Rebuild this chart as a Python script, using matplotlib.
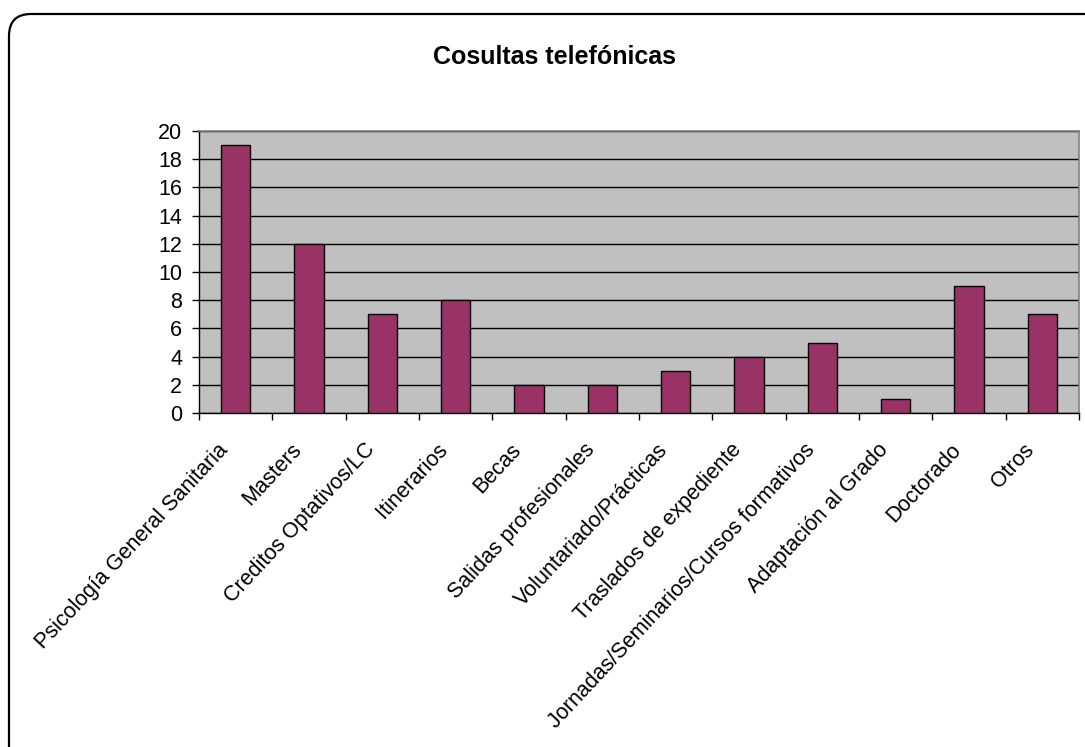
import matplotlib
matplotlib.use("Agg")
import matplotlib.pyplot as plt
import matplotlib.transforms as mtransforms
import numpy as np
from matplotlib.patches import FancyBboxPatch

categories = ["Psicología General Sanitaria", "Masters", "Creditos Optativos/LC",
              "Itinerarios", "Becas", "Salidas profesionales", "Voluntariado/Prácticas",
              "Traslados de expediente", "Jornadas/Seminarios/Cursos formativos",
              "Adaptación al Grado", "Doctorado", "Otros"]
values = [19, 12, 7, 8, 2, 2, 3, 4, 5, 1, 9, 7]
yticks = [0, 2, 4, 6, 8, 10, 12, 14, 16, 18, 20]
title = "Cosultas telefónicas"

plt.rcParams['font.family'] = ['Liberation Sans', 'DejaVu Sans']

W, H = 1085, 747
fig = plt.figure(figsize=(W / 100, H / 100), dpi=100)
fig.patch.set_facecolor('white')

# background frame (pixel coordinates)
bg = fig.add_axes([0, 0, 1, 1], zorder=0)
bg.set_xlim(0, W)
bg.set_ylim(H, 0)
bg.axis('off')
frame = FancyBboxPatch((9, 14), 1120, 760, boxstyle="round,pad=0,rounding_size=22",
                       facecolor='white', edgecolor='black', linewidth=1.6)
bg.add_patch(frame)

left, right, top, bottom = 199, 1079, 131, 413
ax = fig.add_axes([left / W, (H - bottom) / H, (right - left) / W, (bottom - top) / H], zorder=1)
ax.set_facecolor('#C0C0C0')

x = np.arange(len(categories))
ax.bar(x, values, width=0.4, color='#993366', edgecolor='black', linewidth=1.0, zorder=3)

ax.set_xlim(-0.5, len(categories) - 0.5)
ax.set_ylim(0, 20)
ax.set_yticks(yticks)
ax.set_yticklabels([str(v) for v in yticks], fontsize=15.5)
ax.yaxis.grid(True, color='black', linewidth=1.0, zorder=1)
ax.set_axisbelow(True)

ax.set_xticks(np.arange(-0.5, len(categories)), minor=False)
ax.set_xticklabels([])
ax.set_xticks(x, minor=True)
labels = ax.set_xticklabels(categories, minor=True, rotation=47, ha='right', va='top',
                            rotation_mode='anchor', fontsize=15.5)
ax.tick_params(axis='x', which='minor', length=0, pad=19)
ax.tick_params(axis='x', which='major', length=5, width=1, direction='out', color='black')
ax.tick_params(axis='y', length=5, width=1, direction='out', pad=7, color='black')

offset = mtransforms.ScaledTranslation(-13.5 / 72, 0, fig.dpi_scale_trans)
for lab in labels:
    lab.set_transform(lab.get_transform() + offset)

for s in ['top', 'right']:
    ax.spines[s].set_color('#808080')
    ax.spines[s].set_linewidth(1.2)
for s in ['left', 'bottom']:
    ax.spines[s].set_color('black')
    ax.spines[s].set_linewidth(1.0)

fig.text(554.5 / W, 1 - 57 / H, title, ha='center', va='center',
         fontsize=18, fontweight='bold')

fig.savefig('out.png', dpi=100)
